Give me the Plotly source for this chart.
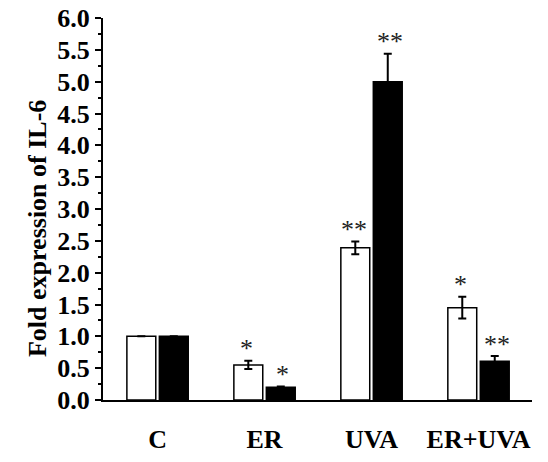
import plotly.graph_objects as go

categories = ["C", "ER", "UVA", "ER+UVA"]
white_vals = [1.0, 0.55, 2.39, 1.45]
white_err = [0.0, 0.065, 0.10, 0.17]
black_vals = [1.0, 0.20, 5.00, 0.61]
black_err = [0.0, 0.012, 0.44, 0.08]
white_sig = ["", "*", "**", "*"]
black_sig = ["", "*", "**", "**"]
y_ticks = [0.0, 0.5, 1.0, 1.5, 2.0, 2.5, 3.0, 3.5, 4.0, 4.5, 5.0, 5.5, 6.0]

SERIF = "'Liberation Serif', 'Times New Roman', serif"

fig = go.Figure()
fig.add_trace(go.Bar(
    x=categories, y=white_vals, name="white",
    marker=dict(color="white", line=dict(color="black", width=1.5)),
    error_y=dict(type="data", array=white_err, visible=True, color="black", thickness=2, width=4),
))
fig.add_trace(go.Bar(
    x=categories, y=black_vals, name="black",
    marker=dict(color="black", line=dict(color="black", width=1.5)),
    error_y=dict(type="data", array=black_err, visible=True, color="black", thickness=2, width=4),
))

annotations = []
for i, c in enumerate(categories):
    for sig, vals, errs, shift in ((white_sig, white_vals, white_err, -18), (black_sig, black_vals, black_err, 18)):
        if sig[i]:
            annotations.append(dict(
                x=c, y=vals[i] + errs[i], xref="x", yref="y", text=sig[i],
                showarrow=False, xshift=shift, yshift=12, yanchor="middle",
                font=dict(family=SERIF, size=26, color="#222"),
            ))

annotations.append(dict(
    x=-0.154, y=0.45, xref="paper", yref="paper", text="<b>Fold expression of IL-6</b>",
    xanchor="center", yanchor="middle",
    textangle=-90, showarrow=False, font=dict(family=SERIF, size=26, color="black"),
))

fig.update_layout(
    width=548, height=462,
    margin=dict(l=103, r=16, t=18, b=62),
    paper_bgcolor="white", plot_bgcolor="white",
    barmode="group", bargap=0.393, bargroupgap=0.11,
    showlegend=False,
    annotations=annotations,
    xaxis=dict(
        type="category", range=[-0.51, 3.5], automargin=False,
        showline=True, linecolor="black", linewidth=2,
        ticks="", showgrid=False, zeroline=False,
        tickfont=dict(family=SERIF, size=26, color="black"),
        ticktext=["<b>%s</b>" % c for c in categories], tickvals=categories,
        ticklabelstandoff=15,
    ),
    yaxis=dict(
        range=[0, 6.0], automargin=False,
        showline=True, linecolor="black", linewidth=2,
        ticks="outside", ticklen=6, tickwidth=2, tickcolor="black",
        tickvals=y_ticks, ticktext=["<b>%.1f</b>" % v for v in y_ticks],
        tickfont=dict(family=SERIF, size=26, color="black"),
        minor=dict(ticks="outside", ticklen=3, tickwidth=1.5, tickcolor="black", dtick=0.25, tick0=0),
        showgrid=False, zeroline=False,
    ),
)

fig.write_html(
    "out.html",
    config={"displayModeBar": False},
    post_script="document.body.style.margin='0';document.body.style.overflow='hidden';",
)
